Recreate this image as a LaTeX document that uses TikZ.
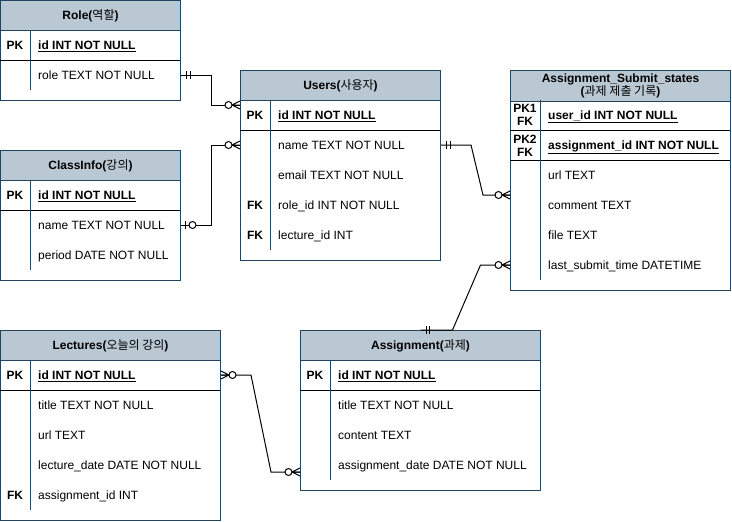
\documentclass[tikz,border=0pt]{standalone}
\usepackage{fontspec}
\setmainfont{Liberation Sans}
\newfontfamily\krfont{Noto Sans CJK KR}
\newcommand{\kr}[1]{{\krfont\mdseries #1}}
\newcommand{\erfont}{\fontsize{12}{14}\selectfont}
\usetikzlibrary{positioning}
\definecolor{erblue}{HTML}{23445D}
\definecolor{erhead}{HTML}{BAC8D3}
% line ends: #1 = point on the table side, #2 = 0 (goes right) or 180 (goes left)
\newcommand{\erone}[2]{\draw[conn,shift={(#1)},rotate=#2] (5.5,-4) -- (5.5,4) (9,-4) -- (9,4);}
\newcommand{\erzeroone}[2]{\draw[conn,shift={(#1)},rotate=#2] (4.5,-4) -- (4.5,4);
	\draw[conn,fill=white,shift={(#1)},rotate=#2] (11.5,0) circle (3.5);}
\newcommand{\ermany}[2]{\draw[conn,shift={(#1)},rotate=#2] (0,-4) -- (8,0) -- (0,4) (0,0) -- (8,0);
	\draw[conn,fill=white,shift={(#1)},rotate=#2] (11.5,0) circle (3.5);}

\begin{document}
\begin{tikzpicture}[x=1pt,y=-1pt,font=\erfont]
	\tikzstyle{tbl}=[draw=erblue, line width=1pt, fill=white, inner sep=0pt, anchor=north west]
	\tikzstyle{hd}=[draw=erblue, line width=1pt, fill=erhead, anchor=north west, minimum height=30pt, font=\erfont\bfseries]
	\tikzstyle{fld}=[anchor=west, inner sep=0pt, text height=8.6pt, text depth=0pt]
	\tikzstyle{key}=[inner sep=0pt, text height=8.6pt, text depth=0pt, font=\erfont\bfseries]
	\tikzstyle{key2}=[inner sep=0pt, align=center, font=\bfseries\fontsize{12}{13.5}\selectfont]
	\tikzstyle{sep}=[line width=1pt, black]
	\tikzstyle{div}=[line width=1pt, erblue]
	\tikzstyle{conn}=[line width=1pt, black]
	\useasboundingbox (0,0) rectangle (732,522);

	% Role
	\draw (0,0) node (role) [tbl, minimum width=180, minimum height=100] {};
	\draw (0,0) node (role-h) [hd, minimum width=180] {Role(\kr{역할})};
	\draw[sep] (0,60) -- (180,60);
	\draw[div] (30,30) -- (30,90);
	\draw (15,45) node (role-pk) [key] {PK};
	\draw (38,45) node (role-id) [fld] {\bfseries\underline{id INT NOT NULL}};
	\draw (38,75) node (role-role) [fld] {role TEXT NOT NULL};

	% ClassInfo
	\draw (0,150) node (ci) [tbl, minimum width=180, minimum height=130] {};
	\draw (0,150) node (ci-h) [hd, minimum width=180] {ClassInfo(\kr{강의})};
	\draw[sep] (0,210) -- (180,210);
	\draw[div] (30,180) -- (30,270);
	\draw (15,195) node (ci-pk) [key] {PK};
	\draw (38,195) node (ci-id) [fld] {\bfseries\underline{id INT NOT NULL}};
	\draw (38,225) node (ci-name) [fld] {name TEXT NOT NULL};
	\draw (38,255) node (ci-period) [fld] {period DATE NOT NULL};

	% Users
	\draw (240,70) node (users) [tbl, minimum width=200, minimum height=190] {};
	\draw (240,70) node (users-h) [hd, minimum width=200] {Users(\kr{사용자})};
	\draw[sep] (240,130) -- (440,130);
	\draw[div] (270,100) -- (270,250);
	\draw (255,115) node (users-pk) [key] {PK};
	\draw (278,115) node (users-id) [fld] {\bfseries\underline{id INT NOT NULL}};
	\draw (278,145) node (users-name) [fld] {name TEXT NOT NULL};
	\draw (278,175) node (users-email) [fld] {email TEXT NOT NULL};
	\draw (255,205) node (users-fk1) [key] {FK};
	\draw (278,205) node (users-role) [fld] {role\_id INT NOT NULL};
	\draw (255,235) node (users-fk2) [key] {FK};
	\draw (278,235) node (users-lec) [fld] {lecture\_id INT};

	% Assignment_Submit_states
	\draw (510,70) node (ass) [tbl, minimum width=220, minimum height=220] {};
	\draw (510,70) node (ass-h) [hd, minimum width=220, align=center, font=\bfseries\fontsize{12}{13}\selectfont] {Assignment\_Submit\_states\\(\kr{과제 제출 기록})};
	\draw[sep] (510,130) -- (730,130);
	\draw[sep] (510,160) -- (730,160);
	\draw[div] (540,100) -- (540,280);
	\draw (525,115) node (ass-k1) [key2] {PK1\\FK};
	\draw (548,115) node (ass-user) [fld] {\bfseries\underline{user\_id INT NOT NULL}};
	\draw (525,146) node (ass-k2) [key2] {PK2\\FK};
	\draw (548,145) node (ass-asg) [fld] {\bfseries\underline{assignment\_id INT NOT NULL}};
	\draw (548,175) node (ass-url) [fld] {url TEXT};
	\draw (548,205) node (ass-comment) [fld] {comment TEXT};
	\draw (548,235) node (ass-file) [fld] {file TEXT};
	\draw (548,265) node (ass-last) [fld] {last\_submit\_time DATETIME};

	% Lectures
	\draw (0,330) node (lec) [tbl, minimum width=220, minimum height=190] {};
	\draw (0,330) node (lec-h) [hd, minimum width=220] {Lectures(\kr{오늘의 강의})};
	\draw[sep] (0,390) -- (220,390);
	\draw[div] (30,360) -- (30,510);
	\draw (15,375) node (lec-pk) [key] {PK};
	\draw (38,375) node (lec-id) [fld] {\bfseries\underline{id INT NOT NULL}};
	\draw (38,405) node (lec-title) [fld] {title TEXT NOT NULL};
	\draw (38,435) node (lec-url) [fld] {url TEXT};
	\draw (38,465) node (lec-date) [fld] {lecture\_date DATE NOT NULL};
	\draw (15,495) node (lec-fk) [key] {FK};
	\draw (38,495) node (lec-asg) [fld] {assignment\_id INT};

	% Assignment
	\draw (300,330) node (asg) [tbl, minimum width=240, minimum height=160] {};
	\draw (300,330) node (asg-h) [hd, minimum width=240] {Assignment(\kr{과제})};
	\draw[sep] (300,390) -- (540,390);
	\draw[div] (330,360) -- (330,480);
	\draw (315,375) node (asg-pk) [key] {PK};
	\draw (338,375) node (asg-id) [fld] {\bfseries\underline{id INT NOT NULL}};
	\draw (338,405) node (asg-title) [fld] {title TEXT NOT NULL};
	\draw (338,435) node (asg-content) [fld] {content TEXT};
	\draw (338,465) node (asg-date) [fld] {assignment\_date DATE NOT NULL};

	% relations
	\coordinate (r1) at (role.east |- role-role.west);
	\coordinate (u1) at (240,105);
	\coordinate (c1) at (ci.east |- ci-name.west);
	\coordinate (u2) at (users.west |- users-name.west);
	\coordinate (u3) at (users.east |- users-name.west);
	\coordinate (a1) at (510,195);
	\coordinate (g1) at (asg.north);
	\coordinate (a2) at (ass.west |- ass-last.west);
	\coordinate (l1) at (lec.east |- lec-id.west);
	\coordinate (g2) at (300,472);

	\draw[conn] (r1) -- ++(30,0) |- (u1);
	\draw[conn] (c1) -- ++(30,0) |- (u2);
	\draw[conn] (u3) -- ++(30,0) -- ++(12,50) -- (a1);
	\draw[conn] (g1) -- ++(32,0) -- ++(28,-65) -- (a2);
	\draw[conn] (l1) -- ++(30,0) -- ++(20,97) -- (g2);

	\erone{r1}{0} \ermany{u1}{180}
	\erzeroone{c1}{0} \ermany{u2}{180}
	\erone{u3}{0} \ermany{a1}{180}
	\erone{g1}{0} \ermany{a2}{180}
	\ermany{l1}{0} \ermany{g2}{180}
\end{tikzpicture}
\end{document}
